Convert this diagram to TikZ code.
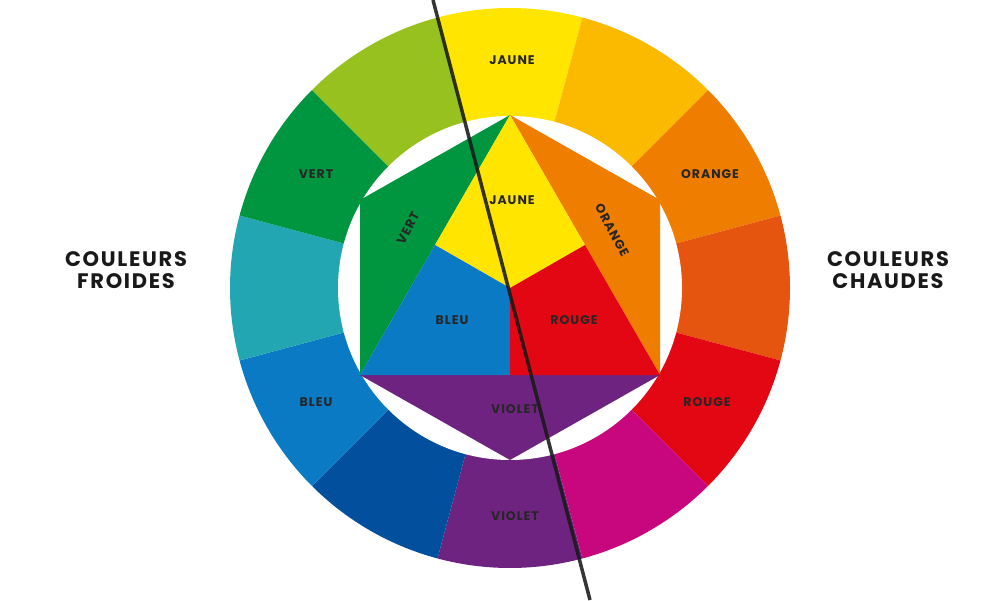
\documentclass[tikz,border=0pt]{standalone}
\usepackage{fontspec}
\setmainfont{Poppins}[LetterSpace=8]
\definecolor{cY}{HTML}{FFE500}
\definecolor{cYO}{HTML}{FBB900}
\definecolor{cO}{HTML}{EF7D00}
\definecolor{cRO}{HTML}{E6550F}
\definecolor{cR}{HTML}{E30613}
\definecolor{cM}{HTML}{C8077E}
\definecolor{cV}{HTML}{6E2380}
\definecolor{cBV}{HTML}{024F9D}
\definecolor{cB}{HTML}{0A7AC4}
\definecolor{cT}{HTML}{22A7B2}
\definecolor{cG}{HTML}{009640}
\definecolor{cYG}{HTML}{97C11F}
\tikzset{lab/.style={font=\bfseries\fontsize{12.5}{14}\selectfont, text=black!85, inner sep=1pt},
 title/.style={font=\bfseries\fontsize{21}{22}\selectfont, align=center, text=black!90}}
\begin{document}
\begin{tikzpicture}[x=1pt,y=1pt]
\useasboundingbox (0,0) rectangle (1000,600);
\coordinate (C) at (510,312);
\foreach \a/\c in {75/cY,45/cYO,15/cO,-15/cRO,-45/cR,-75/cM,-105/cV,-135/cBV,-165/cB,165/cT,135/cG,105/cYG}{
  \fill[\c] (C) -- ++(\a:280) arc[start angle=\a, end angle=\a+30, radius=280] -- cycle;
}
\fill[white] (C) circle (172);
\coordinate (T) at (510,485); \coordinate (UR) at (660,400); \coordinate (LR) at (660,225);
\coordinate (B) at (510,140); \coordinate (LL) at (360,225); \coordinate (UL) at (360,400);
\coordinate (ML) at (435,355); \coordinate (MR) at (585,355); \coordinate (MB) at (510,225);
\fill[cG] (T) -- (UL) -- (LL) -- cycle;
\fill[cO] (T) -- (UR) -- (LR) -- cycle;
\fill[cV] (LL) -- (LR) -- (B) -- cycle;
\fill[cY] (T) -- (MR) -- (C) -- (ML) -- cycle;
\fill[cB] (ML) -- (C) -- (MB) -- (LL) -- cycle;
\fill[cR] (MR) -- (LR) -- (MB) -- (C) -- cycle;
\coordinate (L1) at (433,600); \coordinate (L2) at (590,0);
\draw[black!90, line width=3.5pt, opacity=0.88] (L1) -- (L2);
\node[lab] (o1) at (512,540) {JAUNE};
\node[lab] (o2) at (710,426) {ORANGE};
\node[lab] (o3) at (707,198) {ROUGE};
\node[lab] (o4) at (515,84) {VIOLET};
\node[lab] (o5) at (316,198) {BLEU};
\node[lab] (o6) at (316,426) {VERT};
\node[lab] (i1) at (512,400) {JAUNE};
\node[lab] (i2) at (452,280) {BLEU};
\node[lab] (i3) at (574,280) {ROUGE};
\node[lab] (i4) at (515,191) {VIOLET};
\node[lab, rotate=62] (i5) at (408,372) {VERT};
\node[lab, rotate=-62] (i6) at (612,370) {ORANGE};
\node[title] (tl) at (126,330) {COULEURS\\FROIDES};
\node[title] (tr) at (888,330) {COULEURS\\CHAUDES};
\end{tikzpicture}
\end{document}
